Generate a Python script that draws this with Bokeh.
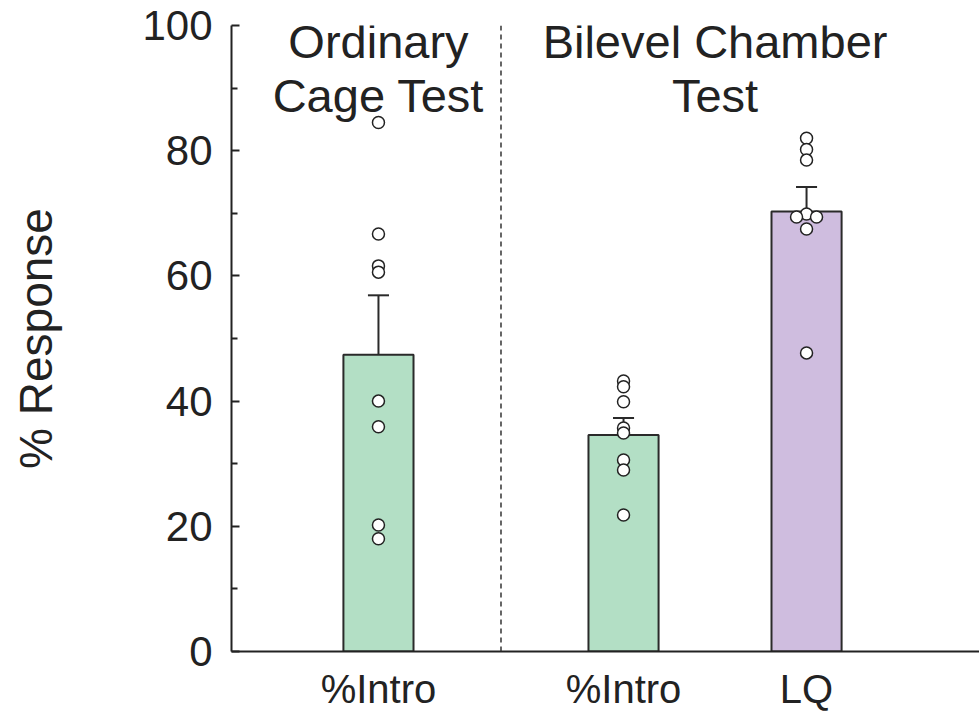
from bokeh.plotting import figure
from bokeh.models import Range1d, FixedTicker, Span, Label
from bokeh.core.properties import value
from bokeh.embed import file_html
from bokeh.resources import INLINE

# ---------------- data ----------------
groups = ["Ordinary Cage Test", "Bilevel Chamber Test", "Bilevel Chamber Test"]
group_titles = {"Ordinary Cage Test": ["Ordinary", "Cage Test"],
                "Bilevel Chamber Test": ["Bilevel Chamber", "Test"]}
bar_labels = ["%Intro", "%Intro", "LQ"]
bar_means = [47.4, 34.6, 70.3]
bar_sem = [9.5, 2.7, 3.9]
pts_ordinary_intro = [84.5, 66.7, 61.6, 60.6, 40.0, 35.9, 20.2, 18.0]
pts_bilevel_intro = [43.2, 42.3, 39.9, 35.7, 34.9, 30.6, 29.0, 21.8]
pts_bilevel_lq = [82.0, 80.2, 78.5, 69.9, 69.4, 69.4, 67.5, 47.7]
points = [pts_ordinary_intro, pts_bilevel_intro, pts_bilevel_lq]
bar_colors = ["#b3dfc5", "#b3dfc5", "#cfbddf"]
y_ticks = [0, 20, 40, 60, 80, 100]
y_minor = [10, 30, 50, 70, 90]

# ---------------- layout helpers ----------------
GROUP_GAP = 0.339
group_order = []
for g in groups:
    if g not in group_order:
        group_order.append(g)
xs = [i + GROUP_GAP * group_order.index(g) for i, g in enumerate(groups)]

X_START, X_END = -0.803, xs[-1] + 0.945
PX_PER_X = 748 / (X_END - X_START)
PX_PER_Y = 627 / 100.0
BAR_W = 0.383
CAP_W = 0.115
FONT = "Liberation Sans"
INK = "#222222"

p = figure(width=979, height=713, output_backend="svg", toolbar_location=None,
           x_range=Range1d(X_START, X_END), y_range=Range1d(0, 100),
           min_border_left=231, min_border_right=0, min_border_top=25,
           min_border_bottom=61)
p.outline_line_color = None
p.xgrid.visible = False
p.ygrid.visible = False
p.background_fill_color = "white"

# bars
p.vbar(x=xs, top=bar_means, bottom=0, width=BAR_W, fill_color=bar_colors,
       line_color="#2a2a2a", line_width=2)

# error bars (upper only)
tops = [m + s for m, s in zip(bar_means, bar_sem)]
p.segment(x0=xs, y0=bar_means, x1=xs, y1=tops, line_color="#2a2a2a", line_width=2)
p.segment(x0=[x - CAP_W / 2 for x in xs], y0=tops, x1=[x + CAP_W / 2 for x in xs],
          y1=tops, line_color="#2a2a2a", line_width=2)

# individual points with a small beeswarm offset for near-identical values
STEP_PX = 10.0
THR_PX = 4.0
px_all, py_all = [], []
for x0, vals in zip(xs, points):
    placed = []
    for v in vals:
        for k in [0, -1, 1, -2, 2]:
            ox = k * STEP_PX
            ok = True
            for (qx, qv) in placed:
                dx = ox - qx
                dy = (v - qv) * PX_PER_Y
                if (dx * dx + dy * dy) ** 0.5 < THR_PX:
                    ok = False
                    break
            if ok:
                placed.append((ox, v))
                break
    for ox, v in placed:
        px_all.append(x0 + ox / PX_PER_X)
        py_all.append(v)
p.scatter(x=px_all, y=py_all, size=12, fill_color="white", line_color=INK,
          line_width=1.5)

# divider between test groups
g1_last = max(x for x, g in zip(xs, groups) if g == group_order[0])
g2_first = min(x for x, g in zip(xs, groups) if g == group_order[1])
p.add_layout(Span(location=(g1_last + g2_first) / 2, dimension="height",
                  line_color="#333333", line_width=1.5, line_dash="5 4"))

# group titles
for g in group_order:
    gx = [x for x, gg in zip(xs, groups) if gg == g]
    cx = sum(gx) / len(gx)
    for j, line in enumerate(group_titles[g]):
        p.add_layout(Label(x=cx, y=97.4 - 8.6 * j, text=line, text_align="center",
                           text_baseline="alphabetic", text_font=FONT,
                           text_font_size="47px", text_color=INK))

# axes
xa = p.xaxis[0]
xa.ticker = FixedTicker(ticks=xs)
xa.major_label_overrides = {x: l for x, l in zip(xs, bar_labels)}
xa.major_tick_line_color = None
xa.minor_tick_line_color = None
xa.axis_line_width = 2
xa.axis_line_color = INK
xa.major_label_text_font = FONT
xa.major_label_text_font_size = "40px"
xa.major_label_text_color = INK
xa.major_label_standoff = 9

ya = p.yaxis[0]
ya.ticker = FixedTicker(ticks=y_ticks, minor_ticks=y_minor)
ya.axis_line_width = 2
ya.axis_line_color = INK
ya.major_tick_in = 8
ya.major_tick_out = 0
ya.minor_tick_in = 6
ya.minor_tick_out = 0
ya.major_tick_line_width = 2
ya.minor_tick_line_width = 2
ya.major_tick_line_color = INK
ya.minor_tick_line_color = INK
ya.major_label_text_font = FONT
ya.major_label_text_font_size = "42px"
ya.major_label_text_color = INK
ya.major_label_standoff = 19
ya.axis_label = "% Response"
ya.axis_label_text_font = FONT
ya.axis_label_text_font_size = "46px"
ya.axis_label_text_font_style = "normal"
ya.axis_label_text_color = INK
ya.axis_label_standoff = 77

open("out.html", "w").write(file_html(p, INLINE))
